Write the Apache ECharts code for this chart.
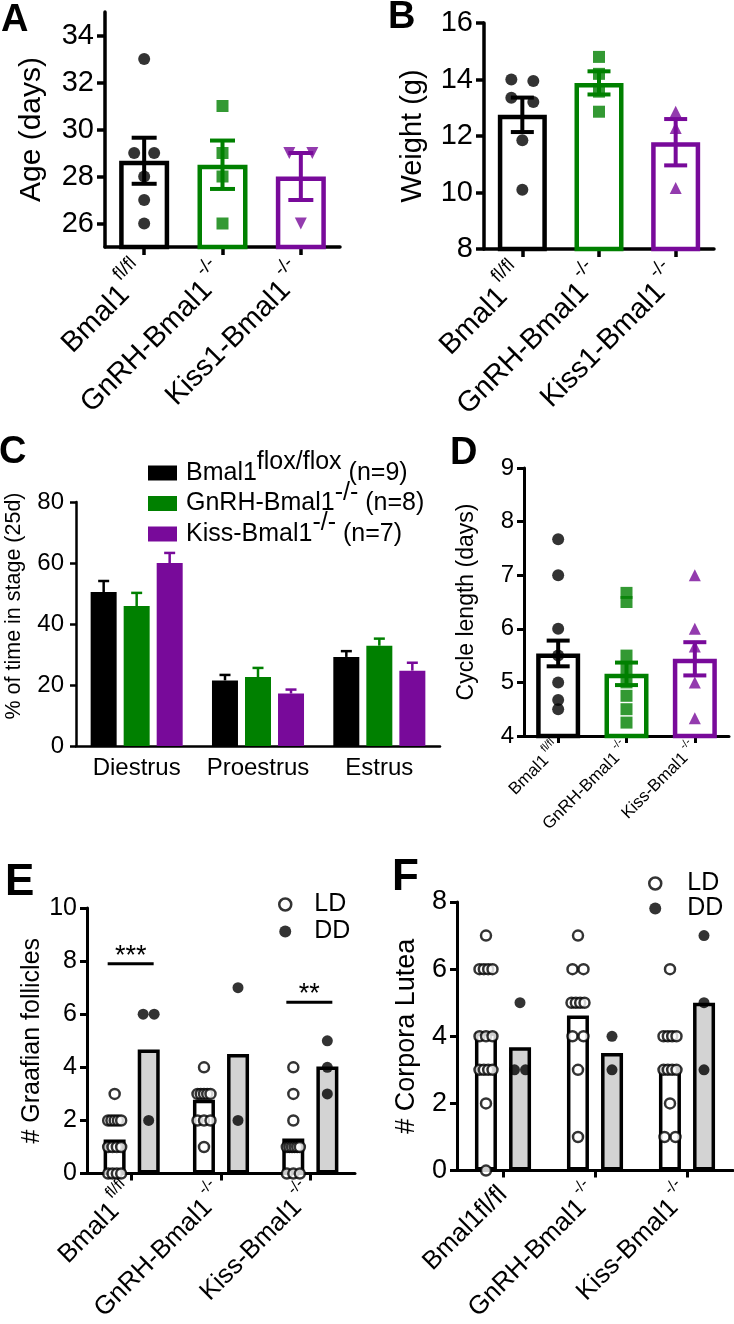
<!DOCTYPE html>
<html><head><meta charset="utf-8">
<script src="https://cdn.jsdelivr.net/npm/echarts@6/dist/echarts.min.js"></script>
<style>html,body{margin:0;padding:0;background:#fff}#c{width:734px;height:1324px}</style>
</head><body><div id="c"></div>
<script>
// ---------------- DATA ----------------
const groupsAB = ['Bmal1^fl/fl', 'GnRH-Bmal1^-/-', 'Kiss1-Bmal1^-/-'];
const groupsD = ['Bmal1^fl/fl', 'GnRH-Bmal1^-/-', 'Kiss-Bmal1^-/-'];
const groupsE = ['Bmal1^fl/fl', 'GnRH-Bmal1^-/-', 'Kiss-Bmal1^-/-'];
const groupsF = ['Bmal1fl/fl', 'GnRH-Bmal1^-/-', 'Kiss-Bmal1^-/-'];

// A: age (days)
const ageMean = [28.67, 28.5, 28.0];
const ageSem = [0.98, 1.03, 1.0];
const ageWT = [33, 29, 29, 28, 27, 26];
const ageGnRH = [31, 29, 28, 26];
const ageKiss = [29, 29, 26];

// B: weight (g)
const weightMean = [12.75, 13.88, 11.78];
const weightSem = [0.61, 0.41, 0.82];
const weightWT = [14.0, 13.95, 13.35, 13.2, 11.85, 10.1];
const weightGnRH = [14.8, 14.2, 13.57, 12.86];
const weightKiss = [12.86, 12.28, 10.16];

// C: % of time in stage (25d)
const stages = ['Diestrus', 'Proestrus', 'Estrus'];
const stageLegend = ['Bmal1^flox/flox (n=9)', 'GnRH-Bmal1^-/- (n=8)', 'Kiss-Bmal1^-/- (n=7)'];
const stageWT = [50.5, 21.5, 29.2];
const stageWTsem = [3.6, 1.8, 1.9];
const stageGnRH = [45.9, 22.6, 32.9];
const stageGnRHsem = [4.3, 3.0, 2.3];
const stageKiss = [60.0, 17.2, 24.7];
const stageKissSem = [3.3, 1.3, 2.6];

// D: cycle length (days)
const cycleMean = [5.54, 5.16, 5.44];
const cycleSem = [0.24, 0.21, 0.31];
const cycleWT = [7.67, 7.0, 6.0, 5.5, 5.0, 4.67, 4.5];
const cycleGnRH = [6.67, 6.5, 5.5, 5.25, 5.0, 4.75, 4.5, 4.25];
const cycleKiss = [7.0, 6.0, 5.67, 5.0, 4.33];

// E: # Graafian follicles
const gfMeanLD = [1.28, 2.78, 1.32];
const gfMeanDD = [4.67, 4.5, 4.03];
const gfLD = [
  [3, 2, 2, 2, 2, 2, 1, 1, 1, 1, 0, 0, 0, 0],
  [4, 3, 3, 3, 3, 3, 2, 2, 2, 1],
  [4, 3, 2, 1, 1, 1, 1, 1, 1, 0, 0, 0]
];
const gfDD = [[6, 6, 2], [7, 2], [5, 4, 3]];
const sigGroups = [0, 2];
const sigLevels = [7.9, 6.45];
const sigLabels = ['***', '**'];

// F: # Corpora Lutea
const clMeanLD = [4.11, 4.62, 3.1];
const clMeanDD = [3.67, 3.5, 5.0];
const clLD = [
  [7, 6, 6, 6, 6, 4, 4, 4, 3, 3, 3, 3, 2, 0],
  [7, 6, 6, 5, 5, 5, 5, 4, 4, 3, 1],
  [6, 4, 4, 4, 4, 3, 3, 3, 3, 2, 1, 1]
];
const clDD = [[5, 3, 3], [4, 3], [7, 5, 3]];

// ---------------- STYLE / BUILD ----------------
const FF = '"Liberation Sans", Arial, Helvetica, sans-serif';
const COL = ['#000000', '#008000', '#780a9a'];
const GRAY = '#d3d3d3';

// beeswarm-like horizontal spread of (near) equal values
function swarm(vals, tol, step, maxSpan) {
  const idx = vals.map((v, i) => i).sort((a, b) => vals[b] - vals[a]);
  const off = new Array(vals.length).fill(0);
  let i = 0;
  while (i < idx.length) {
    let j = i + 1;
    while (j < idx.length && vals[idx[j - 1]] - vals[idx[j]] < tol) j++;
    const n = j - i;
    let s = step;
    if (n > 1 && maxSpan) s = Math.min(step, maxSpan / (n - 1));
    for (let k = 0; k < n; k++) off[idx[i + k]] = (k - (n - 1) / 2) * s;
    i = j;
  }
  return off;
}

function catLabel(str) {
  const p = String(str).split('^');
  return p.length > 1 ? '{m|' + p[0] + '}{s|' + p[1] + '}' : '{m|' + p[0] + '}';
}

function xCat(gi, cats, o) {
  const sfs = o.sfs || 12;
  return {
    type: 'category', gridIndex: gi, data: cats,
    axisLine: {show: true, onZero: false, lineStyle: {color: '#000', width: o.lw}},
    axisTick: {show: o.tick !== false, alignWithLabel: true, length: o.tickLen || 8, lineStyle: {color: '#000', width: o.lw}},
    axisLabel: {
      interval: 0, rotate: o.rotate || 0, margin: o.margin, color: '#000', fontFamily: FF, fontSize: o.fs,
      formatter: v => catLabel(v),
      rich: {
        m: {fontSize: o.fs, fontFamily: FF, color: '#000', lineHeight: sfs + 2 + 2 * (o.raise || 8)},
        s: {fontSize: sfs, fontFamily: FF, color: '#000', verticalAlign: 'top', lineHeight: sfs + 2, padding: [0, 0, 0, 3]}
      }
    },
    splitLine: {show: false}
  };
}

function yVal(gi, min, max, o) {
  const ax = {
    type: 'value', gridIndex: gi, min: min, max: max,
    name: o.name, nameLocation: 'middle', nameGap: o.nameGap, nameRotate: 90,
    nameTextStyle: {fontFamily: FF, fontSize: o.nfs, color: '#000', padding: o.npad || 0},
    axisLine: {show: true, lineStyle: {color: '#000', width: o.lw}},
    axisTick: {show: true, length: o.tickLen, lineStyle: {color: '#000', width: o.lw}},
    axisLabel: {margin: o.margin, fontFamily: FF, fontSize: o.fs, color: '#000'},
    splitLine: {show: false}
  };
  if (o.custom) {
    ax.axisTick.customValues = o.custom;
    ax.axisLabel.customValues = o.custom;
  } else {
    ax.interval = o.interval;
  }
  return ax;
}

function errSeries(ai, means, sems, colorOf, o) {
  return {
    type: 'custom', xAxisIndex: ai, yAxisIndex: ai, z: 5, silent: true, clip: false,
    data: means.map((m, i) => [i, m, sems[i]]),
    renderItem: function (params, api) {
      const i = api.value(0), m = api.value(1), s = api.value(2);
      const top = api.coord([i, m + s]);
      const bot = api.coord([i, o.upOnly ? m : m - s]);
      const dx = o.dx || 0;
      const x = top[0] + dx, hw = o.cap / 2;
      const c = colorOf(params.dataIndex);
      const st = {stroke: c, lineWidth: o.lw};
      const ch = [
        {type: 'line', shape: {x1: x, y1: top[1], x2: x, y2: bot[1]}, style: st},
        {type: 'line', shape: {x1: x - hw, y1: top[1], x2: x + hw, y2: top[1]}, style: st}
      ];
      if (!o.upOnly) ch.push({type: 'line', shape: {x1: x - hw, y1: bot[1], x2: x + hw, y2: bot[1]}, style: st});
      return {type: 'group', children: ch};
    }
  };
}

function dotSeries(ai, g, vals, o) {
  const off = swarm(vals, o.tol, o.step, o.maxSpan);
  return {
    type: 'scatter', name: o.name, xAxisIndex: ai, yAxisIndex: ai, z: 4, silent: true,
    symbol: o.symbol, symbolSize: o.size, symbolRotate: o.rot || 0,
    itemStyle: o.itemStyle,
    data: vals.map((v, k) => ({value: [g, v], symbolOffset: [(o.dx || 0) + off[k], 0]}))
  };
}

function outlineBars(ai, means, bw, border) {
  return {
    type: 'bar', xAxisIndex: ai, yAxisIndex: ai, z: 2, silent: true, barWidth: bw,
    itemStyle: {color: 'rgba(0,0,0,0)', borderWidth: border},
    data: means.map((v, i) => ({value: v, itemStyle: {borderColor: COL[i], color: 'rgba(0,0,0,0)', borderWidth: border}}))
  };
}

const grids = [
  {left: 105, top: 12, width: 235, height: 235},   // A
  {left: 484, top: 23, width: 230, height: 226},   // B
  {left: 76, top: 502, width: 364, height: 244},   // C
  {left: 524, top: 468, width: 205, height: 268},  // D
  {left: 87, top: 908, width: 268, height: 268},   // E
  {left: 457, top: 902, width: 276, height: 275}   // F
];

const xAxes = [
  xCat(0, groupsAB, {lw: 3.5, tickLen: 8, rotate: 45, margin: 24, fs: 29, sfs: 19, raise: 14}),
  xCat(1, groupsAB, {lw: 3.5, tickLen: 8, rotate: 45, margin: 24, fs: 29, sfs: 19, raise: 14}),
  xCat(2, stages, {lw: 2.5, tick: false, rotate: 0, margin: 6, fs: 24, sfs: 14}),
  xCat(3, groupsD, {lw: 3, tickLen: 7, rotate: 45, margin: 10, fs: 17, sfs: 11, raise: 7}),
  xCat(4, groupsE, {lw: 3, tickLen: 7, rotate: 45, margin: 17, fs: 26, sfs: 16, raise: 12}),
  xCat(5, groupsF, {lw: 3, tickLen: 7, rotate: 45, margin: 20, fs: 26, sfs: 16, raise: 12})
];
const yAxes = [
  yVal(0, 25, 35, {custom: [26, 28, 30, 32, 34], name: 'Age (days)', nameGap: 58, nfs: 30, lw: 3.5, tickLen: 8, margin: 11, fs: 29}),
  yVal(1, 8, 16, {interval: 2, name: 'Weight (g)', nameGap: 57, nfs: 29, lw: 3.5, tickLen: 8, margin: 11, fs: 29}),
  yVal(2, 0, 80, {interval: 20, name: '% of time in stage (25d)', nameGap: 51, nfs: 21.5, npad: [0, 0, 0, 36], lw: 2.5, tickLen: 6, margin: 12, fs: 24}),
  yVal(3, 4, 9, {interval: 1, name: 'Cycle length (days)', nameGap: 46, nfs: 23, lw: 3, tickLen: 7, margin: 10, fs: 24}),
  yVal(4, 0, 10, {interval: 2, name: '# Graafian follicles', nameGap: 42, nfs: 25, lw: 3, tickLen: 7, margin: 10, fs: 25}),
  yVal(5, 0, 8, {interval: 2, name: '# Corpora Lutea', nameGap: 37, nfs: 27, lw: 3, tickLen: 7, margin: 10, fs: 27})
];

const series = [];
// A
series.push(outlineBars(0, ageMean, 50, 4.5));
series.push(dotSeries(0, 0, ageWT, {symbol: 'circle', size: 12, tol: 0.3, step: 20, itemStyle: {color: COL[0]}}));
series.push(dotSeries(0, 1, ageGnRH, {symbol: 'rect', size: 12, tol: 0.3, step: 20, itemStyle: {color: COL[1]}}));
series.push(dotSeries(0, 2, ageKiss, {symbol: 'triangle', rot: 180, size: 12, tol: 0.3, step: 23, itemStyle: {color: COL[2]}}));
series.push(errSeries(0, ageMean, ageSem, i => COL[i], {cap: 25, lw: 4}));
// B
series.push(outlineBars(1, weightMean, 49, 4.5));
series.push(dotSeries(1, 0, weightWT, {symbol: 'circle', size: 12, tol: 0.2, step: 22, itemStyle: {color: COL[0]}}));
series.push(dotSeries(1, 1, weightGnRH, {symbol: 'rect', size: 12, tol: 0.2, step: 22, itemStyle: {color: COL[1]}}));
series.push(dotSeries(1, 2, weightKiss, {symbol: 'triangle', size: 12, tol: 0.2, step: 22, itemStyle: {color: COL[2]}}));
series.push(errSeries(1, weightMean, weightSem, i => COL[i], {cap: 23, lw: 4}));
// C
const cVals = [stageWT, stageGnRH, stageKiss];
const cSems = [stageWTsem, stageGnRHsem, stageKissSem];
cVals.forEach((vals, k) => {
  series.push({type: 'bar', name: stageLegend[k], xAxisIndex: 2, yAxisIndex: 2, barWidth: 26, barGap: '27%', z: 2, silent: true,
    itemStyle: {color: COL[k]}, data: vals});
});
cVals.forEach((vals, k) => {
  series.push(errSeries(2, vals, cSems[k], () => COL[k], {cap: 11, lw: 2.5, upOnly: true, dx: (k - 1) * 33}));
});
// D
series.push(outlineBars(3, cycleMean, 44, 4.5));
series.push(dotSeries(3, 0, cycleWT, {symbol: 'circle', size: 12, tol: 0.01, step: 0, itemStyle: {color: COL[0]}}));
series.push(dotSeries(3, 1, cycleGnRH, {symbol: 'rect', size: 12, tol: 0.01, step: 0, itemStyle: {color: COL[1]}}));
series.push(dotSeries(3, 2, cycleKiss, {symbol: 'triangle', size: 12, tol: 0.01, step: 0, itemStyle: {color: COL[2]}}));
series.push(errSeries(3, cycleMean, cycleSem, i => COL[i], {cap: 23, lw: 4}));

// E & F
function ldddPanel(ai, meanLD, meanDD, ptsLD, ptsDD) {
  series.push({type: 'bar', name: 'LDbar', xAxisIndex: ai, yAxisIndex: ai, barWidth: 22, barGap: '55%', z: 2, silent: true,
    itemStyle: {color: '#ffffff', borderColor: '#000', borderWidth: 3.5}, data: meanLD});
  series.push({type: 'bar', name: 'DDbar', xAxisIndex: ai, yAxisIndex: ai, barWidth: 22, barGap: '55%', z: 2, silent: true,
    itemStyle: {color: GRAY, borderColor: '#000', borderWidth: 3.5}, data: meanDD});
  ptsLD.forEach((vals, g) => series.push(dotSeries(ai, g, vals, {name: 'LD', symbol: 'circle', size: 10, dx: -17, tol: 0.01, step: 11, maxSpan: 13,
    itemStyle: {color: '#ffffff', borderColor: '#000', borderWidth: 2.5}})));
  ptsDD.forEach((vals, g) => series.push(dotSeries(ai, g, vals, {name: 'DD', symbol: 'circle', size: 11, dx: 17, tol: 0.01, step: 11, maxSpan: 13,
    itemStyle: {color: '#000'}})));
}
ldddPanel(4, gfMeanLD, gfMeanDD, gfLD, gfDD);
ldddPanel(5, clMeanLD, clMeanDD, clLD, clDD);

// significance bars in E
series.push({
  type: 'custom', xAxisIndex: 4, yAxisIndex: 4, z: 6, silent: true, clip: false,
  data: sigGroups.map((g, i) => [g, sigLevels[i]]),
  renderItem: function (params, api) {
    const c = api.coord([api.value(0), api.value(1)]);
    return {type: 'group', children: [
      {type: 'line', shape: {x1: c[0] - 24, y1: c[1], x2: c[0] + 22, y2: c[1]}, style: {stroke: '#000', lineWidth: 3}},
      {type: 'text', x: c[0] - 1, y: c[1] + 6, style: {text: sigLabels[params.dataIndex], font: '27px ' + FF, fill: '#000', align: 'center', verticalAlign: 'bottom'}}
    ]};
  }
});

function legendFmt(n) {
  const p = n.split('^');
  if (p.length < 2) return '{f|' + n + '}';
  const sp = p[1].indexOf(' ');
  return '{f|' + p[0] + '}{s|' + p[1].slice(0, sp) + '}{m|' + p[1].slice(sp) + '}';
}

const legends = [
  {orient: 'vertical', left: 143, top: 445, itemWidth: 29, itemHeight: 15, itemGap: -5, selectedMode: false, icon: 'rect',
    data: stageLegend, formatter: legendFmt,
    textStyle: {fontFamily: FF, fontSize: 25, color: '#000', rich: {
      f: {fontSize: 25, fontFamily: FF, color: '#000', lineHeight: 46, padding: [0, 0, 0, 4]},
      m: {fontSize: 25, fontFamily: FF, color: '#000', lineHeight: 46},
      s: {fontSize: 25, fontFamily: FF, color: '#000', lineHeight: 13, verticalAlign: 'top'}}}},
  {orient: 'vertical', left: 273, top: 887, itemWidth: 12, itemHeight: 12, itemGap: 2, selectedMode: false,
    data: [{name: 'LD', icon: 'circle', itemStyle: {color: '#fff', borderColor: '#000', borderWidth: 2.5}},
           {name: 'DD', icon: 'circle', itemStyle: {color: '#000'}}],
    formatter: n => '{t|' + n + '}',
    textStyle: {rich: {t: {fontSize: 25, fontFamily: FF, color: '#000', lineHeight: 28, padding: [0, 0, 0, 18]}}}},
  {orient: 'vertical', left: 643, top: 866, itemWidth: 12, itemHeight: 12, itemGap: 0, selectedMode: false,
    data: [{name: 'LD', icon: 'circle', itemStyle: {color: '#fff', borderColor: '#000', borderWidth: 2.5}},
           {name: 'DD', icon: 'circle', itemStyle: {color: '#000'}}],
    formatter: n => '{t|' + n + '}',
    textStyle: {rich: {t: {fontSize: 25, fontFamily: FF, color: '#000', lineHeight: 27, padding: [0, 0, 0, 21]}}}}
];

const letters = [['A', 1, 21, 38], ['B', 388, 18, 38], ['C', -1, 453, 38], ['D', 450, 454, 38], ['E', 5, 883, 44], ['F', 392, 878, 44]];
const graphic = letters.map(l => ({type: 'text', x: l[1], y: l[2], style: {text: l[0], font: 'bold ' + l[3] + 'px ' + FF, fill: '#000', verticalAlign: 'middle'}}));

const chart = echarts.init(document.getElementById('c'), null, {renderer: 'canvas', width: 734, height: 1324});
chart.setOption({
  animation: false,
  backgroundColor: '#fff',
  textStyle: {fontFamily: FF},
  grid: grids,
  xAxis: xAxes,
  yAxis: yAxes,
  legend: legends,
  graphic: graphic,
  series: series
});
</script></body></html>
